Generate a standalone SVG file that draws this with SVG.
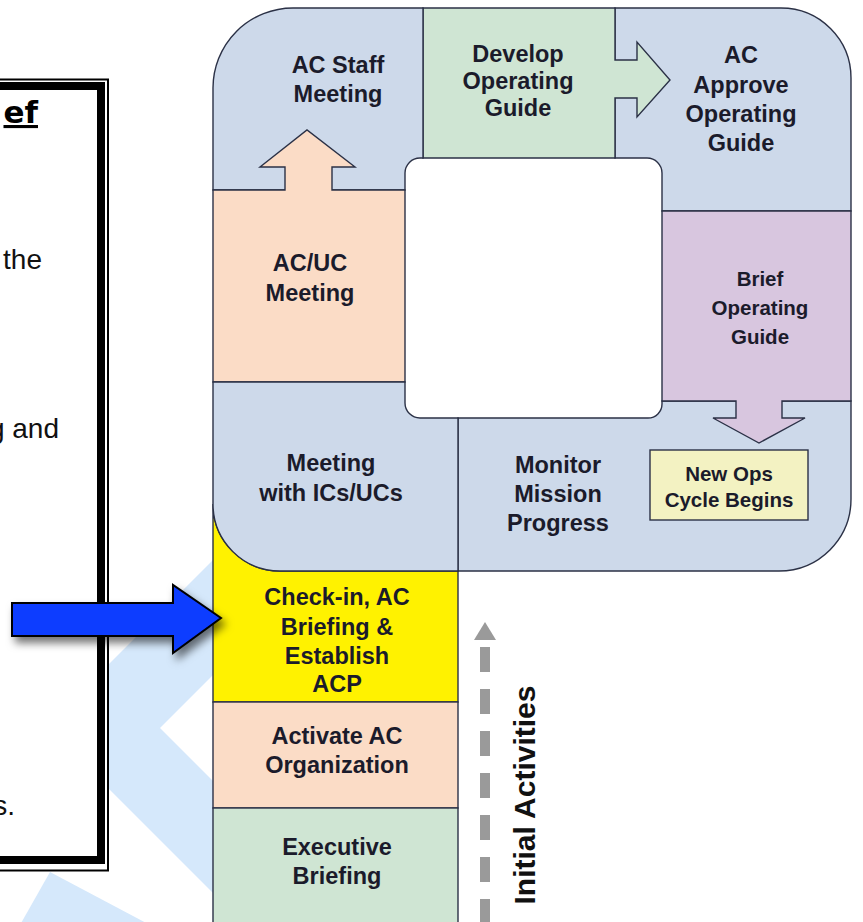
<svg xmlns="http://www.w3.org/2000/svg" width="863" height="922" viewBox="0 0 863 922">
  <defs>
    <style>
      .cell { stroke: #2b3146; stroke-width: 1.4; stroke-linejoin: miter; }
      .blue { fill: #cdd9ea; }
      .green { fill: #cfe5d3; }
      .peach { fill: #fbdcc6; }
      .purple { fill: #d8c6df; }
      .yellow { fill: #fff200; }
      .lbl { font-family: "Liberation Sans", Arial, sans-serif; font-weight: bold; font-size: 23.5px; fill: #1b1b2b; text-anchor: middle; }
      .lbl-s { font-family: "Liberation Sans", Arial, sans-serif; font-weight: bold; font-size: 20.5px; fill: #1b1b2b; text-anchor: middle; }
      .note { font-family: "Liberation Sans", Arial, sans-serif; font-size: 28px; fill: #111; text-anchor: end; }
      .bg { fill: #d5e8fb; }
    </style>
    <filter id="shadow" x="-20%" y="-40%" width="150%" height="200%">
      <feDropShadow dx="4" dy="6" stdDeviation="4" flood-color="#000" flood-opacity="0.55"/>
    </filter>
  </defs>

  <rect width="863" height="922" fill="#fff"/>

  <!-- pale chevron shapes behind the note box -->
  <g id="background">
    <polygon class="bg" points="108,665 213,560 213,675 160,728 213,781 213,893 108,788"/>
    <polygon class="bg" points="50,872 150,925 20,925"/>
  </g>

  <!-- framed note panel on the left -->
  <g id="note-box">
    <rect x="-20" y="79.5" width="128" height="791" fill="#fff" stroke="#000" stroke-width="2"/>
    <rect x="-20" y="86" width="121" height="774" fill="none" stroke="#000" stroke-width="8"/>
    <text x="38" y="123" font-family="'DejaVu Sans', sans-serif" font-weight="bold" font-size="31" text-anchor="end" text-decoration="underline" fill="#000">ef</text>
    <text class="note" x="42" y="269">the</text>
    <text class="note" x="59" y="438">g and</text>
    <text class="note" x="15" y="815">s.</text>
  </g>

  <!-- process cells -->
  <g id="ac-approve">
    <path class="cell blue" d="M615,8 H781 A70,70 0 0 1 851,78 V211 H662 V173 A15,15 0 0 0 647,158 H615 Z"/>
    <text class="lbl"><tspan x="741" y="63">AC</tspan><tspan x="741" y="93">Approve</tspan><tspan x="741" y="122">Operating</tspan><tspan x="741" y="151">Guide</tspan></text>
  </g>

  <g id="develop-guide">
    <path class="cell green" d="M423,8 H615 V60 H637 V42 L670,80 L637,117 V98 H615 V158 H423 Z"/>
    <text class="lbl"><tspan x="518" y="62">Develop</tspan><tspan x="518" y="89">Operating</tspan><tspan x="518" y="116">Guide</tspan></text>
  </g>

  <g id="ac-staff">
    <path class="cell blue" d="M213,88 A80,80 0 0 1 293,8 H423 V158 H420 A15,15 0 0 0 405,173 V190 H213 Z"/>
    <text class="lbl"><tspan x="338" y="73">AC Staff</tspan><tspan x="338" y="102">Meeting</tspan></text>
  </g>

  <g id="ac-uc-meeting">
    <path class="cell peach" d="M213,190 H285 V167 H260 L307,130 L355,167 H332 V190 H405 V382 H213 Z"/>
    <text class="lbl"><tspan x="310" y="271">AC/UC</tspan><tspan x="310" y="301">Meeting</tspan></text>
  </g>

  <g id="monitor-progress">
    <path class="cell blue" d="M458,418 H648 A14,14 0 0 0 662,404 V401 H851 V499 A72,72 0 0 1 779,571 H458 Z"/>
    <text class="lbl"><tspan x="558" y="473">Monitor</tspan><tspan x="558" y="502">Mission</tspan><tspan x="558" y="531">Progress</tspan></text>
  </g>

  <g id="brief-guide">
    <path class="cell purple" d="M662,211 H851 V401 H782 V418 H805 L759,443 L713,418 H736 V401 H662 Z"/>
    <text class="lbl-s"><tspan x="760" y="286">Brief</tspan><tspan x="760" y="315">Operating</tspan><tspan x="760" y="344">Guide</tspan></text>
  </g>

  <g id="new-ops-cycle">
    <rect class="cell" x="650" y="450" width="158" height="70" fill="#f3f2c2"/>
    <text class="lbl-s"><tspan x="729" y="481">New Ops</tspan><tspan x="729" y="507">Cycle Begins</tspan></text>
  </g>

  <g id="check-in">
    <path class="cell yellow" d="M213,504 A67,67 0 0 0 280,571 H458 V702 H213 Z"/>
    <text class="lbl"><tspan x="337" y="605">Check-in, AC</tspan><tspan x="337" y="635">Briefing &amp;</tspan><tspan x="337" y="664">Establish</tspan><tspan x="337" y="692">ACP</tspan></text>
  </g>

  <g id="meeting-ics">
    <path class="cell blue" d="M213,382 H405 V403 A15,15 0 0 0 420,418 H458 V571 H280 A67,67 0 0 1 213,504 Z"/>
    <text class="lbl"><tspan x="331" y="471">Meeting</tspan><tspan x="331" y="501">with ICs/UCs</tspan></text>
  </g>

  <g id="activate-org">
    <rect class="cell peach" x="213" y="702" width="245" height="106"/>
    <text class="lbl"><tspan x="337" y="744">Activate AC</tspan><tspan x="337" y="773">Organization</tspan></text>
  </g>

  <g id="executive-briefing">
    <rect class="cell green" x="213" y="808" width="245" height="130"/>
    <text class="lbl"><tspan x="337" y="855">Executive</tspan><tspan x="337" y="884">Briefing</tspan></text>
  </g>

  <g id="initial-activities">
    <text transform="translate(535,795) rotate(-90)" x="0" y="0" font-family="'Liberation Sans', Arial, sans-serif" font-weight="bold" font-size="30" fill="#111" text-anchor="middle">Initial Activities</text>
  </g>

  <!-- connectors -->
  <g id="connectors">
    <polygon points="12,603 173,603 173,585 221,618 173,653 173,636 12,636" fill="#0b3cff" stroke="#000" stroke-width="2" stroke-linejoin="miter" filter="url(#shadow)"/>
    <line x1="485" y1="647" x2="485" y2="930" stroke="#9a9a9a" stroke-width="10" stroke-dasharray="25 17"/>
    <polygon points="474,640 496,640 485,622" fill="#9a9a9a"/>
  </g>
</svg>
